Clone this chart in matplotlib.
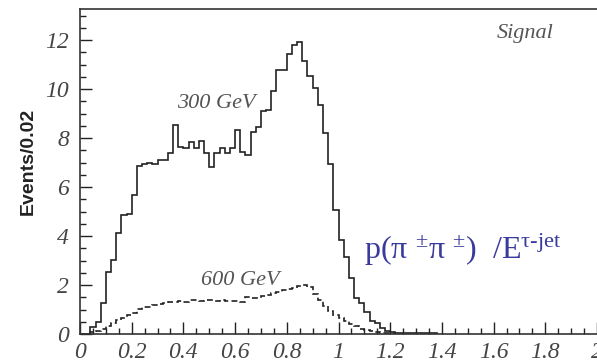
import matplotlib.pyplot as plt
import numpy as np

# Histogram contents, bin width 0.02, first bin starts at 0
bin_width = 0.02
signal_300 = [0, 0, 0.3, 0.5, 1.25, 2.52, 3.02, 4.11, 4.86, 4.92,
              5.67, 6.87, 6.93, 7.0, 6.93, 7.1, 7.1, 7.37, 8.53, 7.62,
              7.58, 7.82, 7.58, 7.88, 7.37, 6.83, 7.41, 7.6, 7.37, 7.58,
              8.33, 7.44, 7.31, 8.26, 8.47, 9.12, 9.14, 9.92, 10.78, 10.78,
              11.43, 11.8, 11.93, 11.16, 10.53, 10.03, 9.35, 8.19, 6.94, 5.06,
              3.84, 3.16, 2.27, 1.45, 1.27, 0.91, 0.55, 0.44, 0.26, 0.13,
              0.10, 0.06, 0.05, 0.05, 0.04, 0.04, 0.03, 0.03, 0.03]
signal_600 = [0, 0, 0.1, 0.12, 0.19, 0.33, 0.44, 0.57, 0.67, 0.78,
              0.87, 1.01, 1.09, 1.09, 1.18, 1.22, 1.25, 1.29, 1.32, 1.35,
              1.32, 1.37, 1.38, 1.36, 1.40, 1.38, 1.36, 1.40, 1.35, 1.33,
              1.34, 1.32, 1.52, 1.47, 1.45, 1.55, 1.60, 1.68, 1.70, 1.78,
              1.82, 1.88, 1.95, 2.0, 1.90, 1.65, 1.40, 1.15, 0.95, 0.78,
              0.65, 0.52, 0.42, 0.32, 0.22, 0.16, 0.11, 0.08, 0.06, 0.04,
              0.03]

x_ticks = [0, 0.2, 0.4, 0.6, 0.8, 1.0, 1.2, 1.4, 1.6, 1.8, 2.0]
x_tick_labels = ['0', '0.2', '0.4', '0.6', '0.8', '1', '1.2', '1.4', '1.6', '1.8', '2']
y_ticks = [0, 2, 4, 6, 8, 10, 12]

plt.rcParams['mathtext.fontset'] = 'custom'
plt.rcParams['mathtext.rm'] = 'Liberation Serif'
plt.rcParams['mathtext.it'] = 'Liberation Serif:italic'

fig = plt.figure(figsize=(5.97, 3.63), dpi=100)
ax = fig.add_axes([80 / 597, 1 - 334 / 363, 1 - 80 / 597, (334 - 9) / 363])

edges_300 = np.arange(len(signal_300) + 1) * bin_width
edges_600 = np.arange(len(signal_600) + 1) * bin_width
ax.stairs(signal_300, edges_300, color='#222222', linewidth=1.2)
ax.stairs(signal_600, edges_600, color='#222222', linewidth=1.2,
          linestyle=(0, (3.5, 2)))

ax.set_xlim(0, 2)
ax.set_ylim(0, 13.27)

ax.set_xticks(x_ticks)
ax.set_xticklabels(x_tick_labels)
ax.set_xticks(np.arange(0, 2.001, 0.05), minor=True)
ax.set_yticks(y_ticks)
ax.set_yticks(np.arange(0, 13.2, 0.5), minor=True)
ax.tick_params(which='both', direction='in', color='#222222', width=1.0,
               labelsize=17, labelcolor='#444444')
ax.tick_params(which='major', length=8.5)
ax.tick_params(which='minor', length=4.5)
ax.tick_params(axis='x', pad=6)
ax.tick_params(axis='y', pad=8)
for lab in ax.get_xticklabels() + ax.get_yticklabels():
    lab.set_family('Liberation Serif')
    lab.set_style('italic')

for side in ['left', 'bottom', 'top']:
    ax.spines[side].set_color('#333333')
    ax.spines[side].set_linewidth(1.2)
ax.spines['right'].set_visible(False)

ax.set_ylabel('Events/0.02', family='Liberation Sans', fontweight='bold',
              fontsize=14, color='#222222')
ax.yaxis.set_label_coords(-0.083, 0.53)

serif_it = dict(family='Liberation Serif', style='italic', color='#555555')
ax.text(0.526, 9.43, '300 GeV', fontsize=16, ha='center', va='center', **serif_it)
ax.text(0.62, 2.2, '600 GeV', fontsize=16, ha='center', va='center', **serif_it)
ax.text(1.72, 12.29, 'Signal', fontsize=16, ha='center', va='center', **serif_it)

ax.text(1.10, 3.43, r'p(π $^{\pm}$π $^{\pm}$)  /E$^{\mathrm{\tau}\text{-jet}}$',
        family='Liberation Serif', fontsize=23, color='#3a3a9e',
        ha='left', va='center')

fig.savefig('out.png', dpi=100)
